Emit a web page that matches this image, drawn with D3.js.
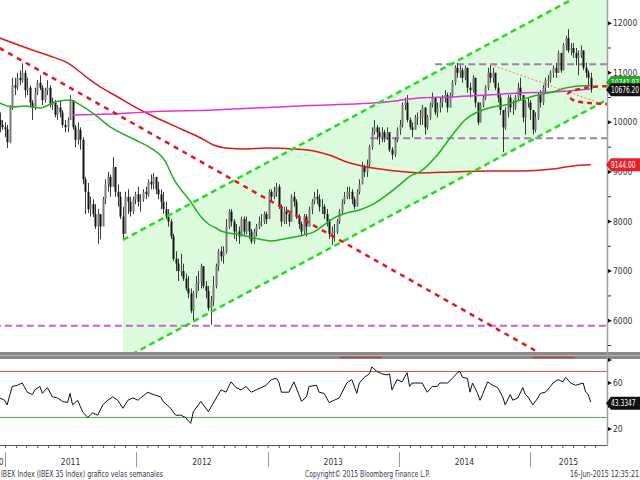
<!DOCTYPE html>
<html>
<head>
<meta charset="utf-8">
<title>IBEX 35 semanal</title>
<script src="https://d3js.org/d3.v7.min.js"></script>
<style>
  body { margin: 0; background: #fff; }
  svg { display: block; font-family: "Liberation Sans Narrow", "DejaVu Sans Condensed", sans-serif; }
</style>
</head>
<body>
<script>
// weekly candles, one per Friday starting at firstWeek
var firstWeek = '2010-12-17';
var firstOpen = 10050;
var weekClose = [
  9950, 9900, 9860, 9600, 10300, 10750, 10700, 10900, 10850, 11000,
  10650, 10700, 10400, 10300, 10600, 10800, 10700, 10450, 10650, 10700,
  10350, 10400, 10150, 10300, 10200, 9950, 9900, 10050, 10450, 9900,
  9650, 9850, 9650, 8850, 8600, 8250, 8350, 8150, 7900, 8150,
  7900, 8450, 8750, 8900, 8700, 9100, 8600, 8500, 8100, 7750,
  8500, 8400, 8200, 8450, 8550, 8400, 8450, 8600, 8550, 8800,
  8750, 8900, 8650, 8550, 8400, 8250, 8100, 8000, 7700, 7250,
  7150, 7000, 7000, 6850, 6650, 6550, 6200, 6550, 6750, 6800,
  7100, 6700, 6600, 6250, 6400, 6700, 7100, 7400, 7300, 7400,
  7900, 8200, 8000, 7800, 7800, 7700, 8050, 7800, 8000, 7800,
  7600, 7800, 7900, 8000, 8000, 8150, 8050, 8600, 8500, 8600,
  8700, 8300, 8000, 8200, 8150, 8000, 8500, 8400, 8100, 7950,
  7800, 8100, 7900, 8250, 8400, 8500, 8450, 8300, 8300, 8150,
  8000, 7750, 7800, 7800, 8000, 8200, 8400, 8500, 8600, 8600,
  8450, 8300, 8600, 8750, 9100, 9000, 9150, 9500, 9800, 9900,
  9800, 9700, 9800, 9700, 9800, 9450, 9350, 9650, 9850, 9950,
  10350, 10400, 10050, 9900, 9850, 10100, 10100, 10100, 10300, 9900,
  10100, 10350, 10500, 10200, 10300, 10400, 10500, 10550, 10300, 10550,
  10800, 11100, 11000, 11050, 10900, 11100, 10700, 10650, 10900, 10400,
  10000, 10350, 10500, 10700, 11000, 10900, 11000, 10700, 10500, 10250,
  9900, 10200, 10500, 10300, 10300, 10500, 10700, 10550, 10100, 10400,
  10400, 10250, 9850, 10100, 10550, 10400, 10700, 10850, 10850, 11000,
  11100, 11000, 11400, 11050, 11550, 11700, 11450, 11500, 11400, 11300,
  11350, 11450, 11100, 11000, 10900, 10676.2
];
var weekHigh = [
  10200, 10050, 10000, 9950, 10350, 10900, 10900, 11000, 11050, 11190,
  11050, 10900, 10750, 10450, 10700, 10850, 10950, 10750, 10700, 10850,
  10750, 10500, 10450, 10350, 10450, 10250, 10050, 10100, 10550, 10450,
  9950, 10000, 9900, 9700, 8900, 8780, 8500, 8450, 8350, 8250,
  8150, 8500, 8850, 9000, 8950, 9300, 9100, 8750, 8600, 8300,
  8600, 8650, 8500, 8500, 8600, 8700, 8550, 8650, 8700, 8850,
  8950, 8980, 8900, 8800, 8650, 8600, 8400, 8250, 8050, 7750,
  7400, 7250, 7350, 7150, 6950, 6900, 6650, 6600, 6900, 7000,
  7150, 7100, 6800, 6700, 6500, 6900, 7150, 7450, 7500, 7500,
  8050, 8250, 8250, 8050, 7950, 7900, 8100, 8100, 8100, 8000,
  7850, 7850, 7950, 8100, 8150, 8200, 8200, 8650, 8650, 8700,
  8780, 8750, 8350, 8300, 8300, 8200, 8550, 8600, 8450, 8150,
  8000, 8150, 8150, 8300, 8450, 8600, 8650, 8550, 8450, 8350,
  8250, 8050, 7900, 7950, 8050, 8250, 8450, 8600, 8700, 8700,
  8650, 8500, 8650, 8850, 9200, 9150, 9250, 9550, 9900, 10050,
  9950, 9900, 9900, 9850, 9900, 9800, 9500, 9700, 9900, 10050,
  10400, 10500, 10550, 10100, 10000, 10150, 10200, 10250, 10350, 10300,
  10150, 10400, 10600, 10500, 10400, 10500, 10550, 10650, 10600, 10600,
  10850, 11150, 11200, 11150, 11100, 11150, 11100, 10800, 10950, 10900,
  10400, 10400, 10550, 10750, 11100, 11150, 11100, 11000, 10800, 10550,
  10250, 10300, 10550, 10550, 10450, 10550, 10800, 10900, 10550, 10450,
  10500, 10450, 10250, 10200, 10600, 10650, 10750, 10900, 10950, 11050,
  11150, 11200, 11450, 11400, 11600, 11750, 11880, 11600, 11600, 11500,
  11450, 11550, 11450, 11200, 11050, 11000
];
var weekLow = [
  9800, 9850, 9700, 9480, 9580, 10250, 10550, 10650, 10750, 10800,
  10500, 10550, 10300, 10050, 10250, 10550, 10650, 10350, 10400, 10550,
  10300, 10250, 10100, 10050, 10100, 9900, 9800, 9800, 10050, 9850,
  9500, 9550, 9450, 8750, 8150, 8170, 8100, 8090, 7850, 7550,
  7640, 7950, 8350, 8600, 8500, 8700, 8500, 8300, 8050, 7630,
  7800, 8150, 8100, 8150, 8350, 8300, 8200, 8400, 8450, 8500,
  8650, 8650, 8550, 8450, 8250, 8150, 8050, 7900, 7650, 7200,
  7000, 6800, 6900, 6800, 6600, 6450, 6150, 6000, 6450, 6600,
  6650, 6650, 6450, 6200, 5920, 6300, 6650, 7000, 7200, 7150,
  7350, 7850, 7900, 7650, 7600, 7550, 7700, 7700, 7750, 7650,
  7550, 7550, 7700, 7850, 7900, 7950, 7950, 8100, 8400, 8450,
  8500, 8250, 7900, 7950, 7950, 7900, 8000, 8300, 8050, 7850,
  7700, 7750, 7700, 7900, 8150, 8350, 8350, 8200, 8150, 8050,
  7900, 7650, 7530, 7600, 7750, 7950, 8150, 8350, 8450, 8450,
  8350, 8250, 8300, 8550, 8750, 8900, 8900, 9100, 9450, 9750,
  9650, 9550, 9600, 9600, 9650, 9400, 9250, 9300, 9600, 9750,
  9900, 10250, 10000, 9850, 9700, 9850, 9950, 9950, 9950, 9750,
  9850, 10050, 10300, 10150, 10100, 10200, 10300, 10400, 10200, 10300,
  10500, 10750, 10900, 10900, 10800, 10850, 10600, 10500, 10600, 10300,
  9950, 10000, 10300, 10450, 10650, 10800, 10800, 10650, 10400, 10150,
  9400, 9850, 10100, 10200, 10150, 10250, 10450, 10450, 10000, 9750,
  10300, 10050, 9750, 9800, 10050, 10300, 10350, 10600, 10700, 10800,
  10900, 10900, 11000, 11000, 11050, 11450, 11400, 11350, 11300, 11150,
  10950, 11300, 11050, 10900, 10750, 10600
];

// moving averages, read as (week index, value)
var greenWeeks = [0, 5, 10, 16, 22, 28, 32, 38, 44, 54, 60, 66, 69, 76, 80, 83, 86, 88, 96, 101, 108, 115, 121, 125, 129, 133, 138, 143, 148, 154, 159, 164, 167, 174, 180, 185, 191, 196, 201, 207, 214, 220, 225, 229, 233, 235];
var greenValues = [10391, 10311, 10331, 10290, 10411, 10452, 10351, 10149, 9907, 9645, 9484, 9202, 8879, 8395, 8100, 7950, 7870, 7810, 7730, 7670, 7609, 7670, 7730, 7791, 7932, 8073, 8174, 8234, 8335, 8537, 8739, 8940, 9000, 9343, 9746, 10049, 10230, 10311, 10351, 10452, 10553, 10613, 10694, 10730, 10740, 10741.97];
var redWeeks = [0, 13, 20, 27, 32, 36, 40, 47, 53, 60, 66, 73, 80, 85, 90, 98, 106, 117, 125, 131, 138, 146, 154, 162, 167, 180, 194, 207, 220, 228, 235];
var redValues = [11702, 11460, 11339, 11198, 11016, 10855, 10714, 10512, 10331, 10149, 10008, 9847, 9685, 9544, 9484, 9464, 9484, 9464, 9424, 9343, 9202, 9101, 9041, 9000, 8980, 9000, 9020, 9020, 9061, 9121, 9144];
var magentaWeeks = [29, 44, 59, 85, 119, 154, 167, 180, 194, 207, 220, 235];
var magentaValues = [10149, 10170, 10210, 10250, 10331, 10411, 10492, 10512, 10553, 10593, 10613, 10674];

// RSI, read as (week index, value)
var rsiWeeks = [0, 2, 3, 5, 7, 9, 11, 13, 14, 16, 17, 19, 21, 23, 25, 27, 28, 29, 31, 33, 35, 37, 39, 41, 43, 45, 47, 49, 51, 53, 55, 56, 59, 61, 64, 65, 68, 70, 72, 74, 75, 76, 77, 80, 83, 84, 88, 90, 92, 94, 96, 98, 100, 102, 104, 106, 108, 110, 111, 112, 115, 117, 119, 120, 122, 123, 126, 127, 129, 131, 133, 135, 138, 140, 142, 143, 145, 147, 148, 150, 152, 154, 155, 156, 158, 160, 162, 163, 164, 167, 168, 170, 172, 174, 175, 178, 180, 182, 183, 184, 186, 187, 188, 190, 191, 192, 194, 196, 198, 200, 201, 203, 204, 206, 208, 209, 210, 212, 214, 215, 217, 219, 220, 222, 224, 225, 227, 229, 232, 233, 234, 235];
var rsiValues = [47, 45, 41, 57, 58, 60, 52, 50, 54, 57, 51, 56, 48, 47, 44, 43, 51, 41, 45, 35, 30, 34, 32, 41, 45, 48, 45, 38, 45, 47, 45, 47, 52, 50, 48, 44, 38, 32, 32, 30, 27, 25, 35, 44, 35, 39, 54, 52, 61, 56, 54, 57, 52, 54, 56, 58, 63, 64, 61, 52, 52, 61, 50, 44, 48, 57, 58, 52, 51, 43, 45, 47, 60, 63, 51, 60, 65, 68, 74, 70, 68, 67, 68, 54, 63, 61, 69, 57, 60, 60, 60, 52, 57, 57, 60, 60, 64, 69, 70, 65, 64, 52, 60, 51, 45, 50, 61, 58, 56, 48, 41, 50, 45, 47, 56, 50, 48, 41, 47, 51, 52, 57, 60, 63, 61, 65, 60, 58, 60, 52, 50, 43.3347];
var rsiBands = [70, 30];

// drawn studies
var trendStart = ['2010-12-17', 11500], trendEnd = ['2015-02-01', 5330];
var channelDates = ['2011-11-25', '2015-08-03'];
var channelUpper = [7630, 12857];
var channelLower = [5224, 10454];
var levelValues = [5900, 9680, 11170];
var levelStarts = ['2010-12-01', '2013-10-13', '2014-04-12'];
var levelEnd = '2015-08-03';
var thinTrend = [['2014-09-12', 11170], ['2015-07-21', 10370]];
var bracketPts = [['2015-08-03', 10730], ['2015-06-06', 10700], ['2015-04-17', 10580], ['2015-05-01', 10450], ['2015-06-17', 10390], ['2015-08-03', 10370]];
var bandMarks = [['2013-07-21', '2013-11-15'], ['2015-01-09', '2015-05-06']];

// axes
var priceTicks = [6000, 7000, 8000, 9000, 10000, 11000, 12000];
var priceMinor = [5500, 6500, 7500, 8500, 9500, 10500, 11500];
var rsiTicks = [20, 40, 60, 80];
var rsiLabels = [20, 60];
var years = [2010, 2011, 2012, 2013, 2014, 2015];
var footLeft = 'IBEX Index (IBEX 35 Index) grafico velas semanales';
var footMid = 'Copyright\u00a9 2015 Bloomberg Finance L.P.';
var footRight = '16-Jun-2015 12:35:21';

var W = 640, H = 480, plotR = 607, plotB = 352;
var parse = d3.utcParse('%Y-%m-%d');
var week0 = parse(firstWeek);
function weekDate(i) { return d3.utcDay.offset(week0, i * 7); }

var x = d3.scaleUtc()
  .domain([new Date(Date.UTC(2011, 0, 1)), new Date(Date.UTC(2015, 0, 1))])
  .range([5, 530]);
var y = d3.scaleLinear().domain([6000, 12000]).range([320.7, 23.2]);
var yr = d3.scaleLinear().domain([20, 60]).range([429, 383]);

var svg = d3.select('body').append('svg').attr('width', W).attr('height', H);
var defs = svg.append('defs');
defs.append('clipPath').attr('id', 'mainClip').append('rect')
  .attr('x', 0).attr('y', 0).attr('width', plotR).attr('height', plotB);
defs.append('clipPath').attr('id', 'rsiClip').append('rect')
  .attr('x', 0).attr('y', 359).attr('width', plotR).attr('height', 86);

var main = svg.append('g').attr('clip-path', 'url(#mainClip)');

// channel fill
var cd = channelDates.map(parse);
main.append('path')
  .attr('d', 'M' + x(cd[0]) + ',' + y(channelUpper[0]) +
    'L' + x(cd[1]) + ',' + y(channelUpper[1]) +
    'L' + x(cd[1]) + ',' + y(channelLower[1]) +
    'L' + x(cd[0]) + ',' + y(channelLower[0]) + 'Z')
  .attr('fill', '#dcfadc');

// horizontal levels
main.selectAll('.level').data(levelValues).enter().append('line')
  .attr('x1', function(d, i) { return x(parse(levelStarts[i])); })
  .attr('x2', x(parse(levelEnd)))
  .attr('y1', function(d) { return y(d); })
  .attr('y2', function(d) { return y(d); })
  .attr('stroke', function(d, i) { return i === 0 ? '#c066cc' : '#a77ab3'; })
  .attr('stroke-width', 2)
  .attr('stroke-dasharray', '7,4');

// candles
var candles = weekClose.map(function(c, i) {
  return { date: weekDate(i), open: i ? weekClose[i - 1] : firstOpen, close: c, high: weekHigh[i], low: weekLow[i] };
});
var cg = main.append('g');
cg.selectAll('.wick').data(candles).enter().append('line')
  .attr('x1', function(d) { return Math.round(x(d.date)) + 0.5; })
  .attr('x2', function(d) { return Math.round(x(d.date)) + 0.5; })
  .attr('y1', function(d) { return y(d.high); })
  .attr('y2', function(d) { return y(d.low); })
  .attr('stroke', '#3a3a3a').attr('stroke-width', 1);
cg.selectAll('.body').data(candles).enter().append('rect')
  .attr('x', function(d) { return Math.round(x(d.date)) - 0.5; })
  .attr('width', 2)
  .attr('y', function(d) { return y(Math.max(d.open, d.close)); })
  .attr('height', function(d) { return Math.max(1, Math.abs(y(d.open) - y(d.close))); })
  .attr('fill', function(d) { return d.close >= d.open ? '#7a7a7a' : '#151515'; });

// moving averages
function maLine(weeks, values) {
  return d3.line().curve(d3.curveMonotoneX)
    .x(function(d, i) { return x(weekDate(weeks[i])); })
    .y(function(d) { return y(d); })(values);
}
main.append('path').attr('d', maLine(redWeeks, redValues))
  .attr('fill', 'none').attr('stroke', '#e01818').attr('stroke-width', 1.5);
main.append('path').attr('d', maLine(magentaWeeks, magentaValues))
  .attr('fill', 'none').attr('stroke', '#e030e0').attr('stroke-width', 1.5);
main.append('path').attr('d', maLine(greenWeeks, greenValues))
  .attr('fill', 'none').attr('stroke', '#20b020').attr('stroke-width', 1.5);

// channel lines
[channelUpper, channelLower].forEach(function(v) {
  main.append('line')
    .attr('x1', x(cd[0])).attr('y1', y(v[0]))
    .attr('x2', x(cd[1])).attr('y2', y(v[1]))
    .attr('stroke', '#22dd22').attr('stroke-width', 2.5)
    .attr('stroke-dasharray', '6,4');
});

// downtrend
main.append('line')
  .attr('x1', x(parse(trendStart[0]))).attr('y1', y(trendStart[1]))
  .attr('x2', x(parse(trendEnd[0]))).attr('y2', y(trendEnd[1]))
  .attr('stroke', '#e8141b').attr('stroke-width', 2.5)
  .attr('stroke-dasharray', '5,5');

// thin dotted trend
main.append('line')
  .attr('x1', x(parse(thinTrend[0][0]))).attr('y1', y(thinTrend[0][1]))
  .attr('x2', x(parse(thinTrend[1][0]))).attr('y2', y(thinTrend[1][1]))
  .attr('stroke', '#f08060').attr('stroke-width', 1)
  .attr('stroke-dasharray', '2,2');

// bracket
main.append('path')
  .attr('d', d3.line().curve(d3.curveCatmullRom)
    .x(function(d) { return x(parse(d[0])); })
    .y(function(d) { return y(d[1]); })(bracketPts))
  .attr('fill', 'none').attr('stroke', '#e8141b').attr('stroke-width', 2.5)
  .attr('stroke-dasharray', '5,4');

// separator band
svg.append('rect').attr('x', 0).attr('y', plotB).attr('width', W).attr('height', 7).attr('fill', '#8a8a8a');
svg.append('line').attr('x1', 0).attr('x2', W).attr('y1', plotB + 3.5).attr('y2', plotB + 3.5)
  .attr('stroke', '#b5b5b5').attr('stroke-width', 1);
svg.selectAll('.bandMark').data(bandMarks).enter().append('line')
  .attr('x1', function(d) { return x(parse(d[0])); })
  .attr('x2', function(d) { return x(parse(d[1])); })
  .attr('y1', plotB + 5.5).attr('y2', plotB + 5.5)
  .attr('stroke', '#d03030').attr('stroke-width', 1);

// RSI panel
var rg = svg.append('g').attr('clip-path', 'url(#rsiClip)');
rg.selectAll('.band').data(rsiBands).enter().append('line')
  .attr('x1', 0).attr('x2', plotR)
  .attr('y1', function(d) { return yr(d); }).attr('y2', function(d) { return yr(d); })
  .attr('stroke', function(d) { return d > 50 ? '#e05050' : '#40c040'; })
  .attr('stroke-width', 1);
rg.append('path')
  .attr('d', d3.line()
    .x(function(d, i) { return x(weekDate(rsiWeeks[i])); })
    .y(function(d) { return yr(d); })(rsiValues))
  .attr('fill', 'none').attr('stroke', '#111').attr('stroke-width', 1);

// bottom time axis with monthly ticks
var xAxis = d3.axisBottom(x)
  .tickValues(d3.utcMonth.range(new Date(Date.UTC(2010, 11, 1)), new Date(Date.UTC(2015, 7, 1))))
  .tickFormat('').tickSize(3).tickSizeOuter(0);
var xg = svg.append('g').attr('transform', 'translate(0,445)').call(xAxis);
xg.select('.domain').attr('d', 'M0,0.5H' + plotR).attr('stroke', '#555');
xg.selectAll('.tick line').attr('stroke', '#555');

years.forEach(function(yv) {
  var s = x(new Date(Date.UTC(yv, 0, 1))), e = x(new Date(Date.UTC(yv + 1, 0, 1)));
  if (yv > 2010) {
    svg.append('line').attr('x1', Math.round(s) + 0.5).attr('x2', Math.round(s) + 0.5)
      .attr('y1', 452).attr('y2', 467).attr('stroke', '#999');
  }
  var cx = (Math.max(s, -8) + Math.min(e, plotR)) / 2;
  if (yv === 2010) cx = -6;
  svg.append('text').attr('x', cx).attr('y', 465).attr('text-anchor', 'middle')
    .attr('font-size', '8.5px').attr('fill', '#333').text(yv);
});

// right axis
svg.append('line').attr('x1', plotR + 0.5).attr('x2', plotR + 0.5).attr('y1', 0).attr('y2', 446)
  .attr('stroke', '#a0a0a0').attr('stroke-width', 1.5);
function rightTicks(scale, major, minor, labels) {
  svg.selectAll(null).data(major).enter().append('path')
    .attr('d', function(d) { var t = scale(d); return 'M' + (plotR + 1) + ',' + (t - 2) + 'L' + (plotR + 5) + ',' + t + 'L' + (plotR + 1) + ',' + (t + 2) + 'Z'; })
    .attr('fill', '#111');
  svg.selectAll(null).data(minor).enter().append('line')
    .attr('x1', plotR + 1).attr('x2', plotR + 4)
    .attr('y1', function(d) { return scale(d); }).attr('y2', function(d) { return scale(d); })
    .attr('stroke', '#333');
  svg.selectAll(null).data(labels).enter().append('text')
    .attr('x', plotR + 6).attr('y', function(d) { return scale(d); })
    .attr('dy', '0.35em').attr('font-size', '8.5px').attr('fill', '#333')
    .text(function(d) { return d; });
}
rightTicks(y, priceTicks, priceMinor, priceTicks);
rightTicks(yr, rsiTicks, [], rsiLabels);

// value tags
function tag(yc, fill, label) {
  svg.append('path')
    .attr('d', 'M' + (plotR - 1) + ',' + yc + 'L' + (plotR + 4) + ',' + (yc - 6.5) + 'L' + W + ',' + (yc - 6.5) +
      'L' + W + ',' + (yc + 6.5) + 'L' + (plotR + 4) + ',' + (yc + 6.5) + 'Z')
    .attr('fill', fill);
  svg.append('text').attr('x', plotR + 4).attr('y', yc).attr('dy', '0.35em')
    .attr('font-size', '8.5px').attr('fill', '#fff')
    .attr('textLength', label.length * 3.5).attr('lengthAdjust', 'spacingAndGlyphs')
    .text(label);
}
var lastG = greenValues[greenValues.length - 1];
var lastC = weekClose[weekClose.length - 1];
var lastR = redValues[redValues.length - 1];
tag(y(lastG) - 3, '#22aa22', lastG.toFixed(2));
tag(y(lastC) + 1, '#111', lastC.toFixed(2));
tag(y(lastR), '#e8202a', lastR.toFixed(2));
tag(yr(rsiValues[rsiValues.length - 1]) + 1, '#111', rsiValues[rsiValues.length - 1].toFixed(4));

// footer
function foot(xp, anchor, txt, len) {
  svg.append('text').attr('x', xp).attr('y', 477).attr('text-anchor', anchor)
    .attr('font-size', '8.5px').attr('fill', '#3b3355')
    .attr('textLength', len).attr('lengthAdjust', 'spacingAndGlyphs').text(txt);
}
foot(1, 'start', footLeft, 162);
foot(305, 'start', footMid, 125);
foot(W - 1, 'end', footRight, 69);
</script>
</body>
</html>
